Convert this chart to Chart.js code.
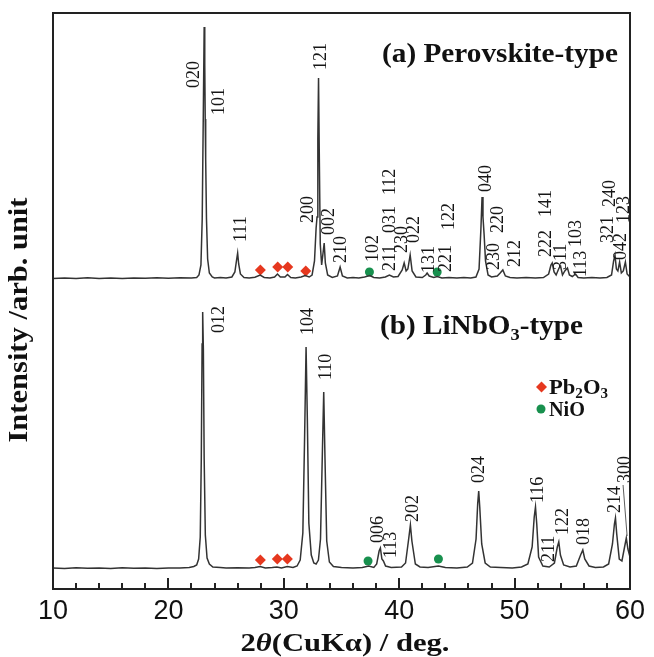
<!DOCTYPE html>
<html>
<head>
<meta charset="utf-8">
<script src="https://cdn.jsdelivr.net/npm/chart.js@4/dist/chart.umd.min.js"></script>
<style>
  html, body { margin: 0; padding: 0; background: #ffffff; }
  #wrap { width: 654px; height: 657px; }
</style>
</head>
<body>
<div id="wrap"><canvas id="xrd" width="654" height="657"></canvas></div>
<script>
// XRD patterns: [2θ (deg), intensity above baseline (arb. unit)]
const perovskitePattern = [
  [10,0.5],[11,1],[12,0.5],[13,1.2],[14,0.6],[15,1],[16,0.4],[17,1.1],[18,0.7],[19,1.3],[20,0.8],[21,1.2],[22,1],
  [22.45,1.5],[22.65,4],[22.82,14],[22.93,60],[23.02,160],[23.1,252],[23.15,215],[23.19,160],[23.23,120],[23.3,60],[23.4,20],[23.55,6],[23.8,2],
  [24,1],[24.5,1.5],[25,1],[25.5,2],[25.76,7],[25.92,20],[26.0,26],[26.09,15],[26.24,5],[26.55,1.5],
  [27,1],[27.5,1.8],[27.95,4],[28.3,1.5],[28.8,1],[29.2,2],[29.45,5],[29.7,2],[30.1,2],[30.32,4.5],[30.6,1.5],[31,1],[31.5,2],[31.85,3.5],[32.2,2],
  [32.45,4],[32.66,18],[32.8,51],[32.88,62],[32.95,140],[33.01,201],[33.07,130],[33.16,35],[33.28,14],[33.42,28],[33.5,36],[33.6,16],[33.8,4],
  [34.2,1.5],[34.65,3],[34.88,12],[35.08,3],[35.5,1],[36,1.5],[36.5,1],[37,2],[37.45,3.5],[37.8,1.5],[38.3,1],[38.8,2],[39.15,4],[39.5,2],
  [39.9,2.5],[40.26,9],[40.43,16],[40.6,8],[40.75,10],[40.95,24],[41.12,8],[41.45,2],[42.0,1.5],[42.3,4],[42.42,6],[42.6,3],[43,1.5],[43.3,2.5],[43.7,1],
  [44.3,1.5],[45,1],[45.6,1.5],[46.2,1],[46.65,2],[46.92,10],[47.08,50],[47.18,82],[47.26,62],[47.36,44],[47.48,18],[47.7,4],
  [48.0,2],[48.5,3],[48.75,6],[48.98,9],[49.2,3],[49.6,1.5],[50.2,1],[51,1.5],[51.8,1],[52.5,1.5],
  [52.95,5],[53.15,14],[53.26,16],[53.42,7],[53.6,4],[53.85,11],[53.98,13],[54.15,4],[54.35,8],[54.58,11],[54.75,4],[55.0,2.5],[55.28,5],[55.5,1.5],
  [56,1],[56.7,1.5],[57.4,1],[58,1.5],[58.4,4],[58.58,18],[58.7,24],[58.82,10],[58.95,8],[59.1,17],[59.25,6],[59.42,8],[59.6,17],[59.75,5],[60,2]
];

const linbo3Pattern = [
  [10,1],[11,0.5],[12,1.2],[13,0.7],[14,1],[15,0.5],[16,1.2],[17,0.8],[18,1],[19,0.6],[20,1.1],[21,1],[21.8,1.5],[22.2,2.5],
  [22.45,4],[22.62,10],[22.76,32],[22.85,110],[22.92,225],[22.97,257],[23.03,220],[23.1,110],[23.2,34],[23.35,11],[23.55,5],[23.85,2],
  [24.5,1.5],[25,1],[26,1.2],[27,1],[27.5,1.5],[27.95,2.5],[28.4,1],[29,1.5],[29.4,2],[29.8,1],[30.3,2.5],[30.8,1.5],
  [31.15,3],[31.42,9],[31.65,36],[31.8,130],[31.93,222],[32.04,150],[32.17,46],[32.38,14],[32.6,6],[32.8,5],
  [33.0,9],[33.18,30],[33.34,115],[33.46,177],[33.57,110],[33.72,28],[33.95,7],[34.3,2.5],
  [35,1.5],[36,1],[36.8,1.5],[37.36,3],[37.8,1.5],[38.05,5],[38.26,18],[38.37,21],[38.5,10],[38.63,8],[38.82,3],[39.3,1.5],
  [40.2,2],[40.55,6],[40.82,30],[40.97,44],[41.1,28],[41.4,5],[41.8,2],[42.5,1.5],[43.4,3],[44,1.5],[45,1],
  [45.9,2],[46.35,6],[46.66,30],[46.8,65],[46.89,78],[46.98,62],[47.15,25],[47.45,6],[47.9,2],[48.8,1.5],[49.8,1],
  [50.6,2],[51.15,5],[51.52,22],[51.7,52],[51.81,62],[51.92,45],[52.08,12],[52.24,8],[52.45,3],[53.0,2],
  [53.45,6],[53.7,22],[53.83,27],[53.97,14],[54.25,4],[54.8,2],[55.35,3],[55.72,14],[55.91,19],[56.08,10],[56.45,3],
  [57.0,1.5],[57.7,2],[58.15,5],[58.48,25],[58.65,45],[58.74,51],[58.85,35],[59.07,10],[59.3,8],[59.53,22],[59.68,31],[59.82,20],[60,12]
];

// Miller indices: label text, 2θ of the label column, intensity level where the label starts
const perovskiteHkl      = ['020','101','111','200','121','002','210','102','211','031','112','230','022','131','221','122','040','230','220','212','222','141','311','103','113','321','240','042','123'];
const perovskiteHklTheta = [22.16,24.33,26.24,32.04,33.17,33.87,34.9,37.68,39.15,39.15,39.15,40.17,41.26,42.56,44.01,44.29,47.47,48.19,48.49,49.93,52.68,52.68,53.98,55.28,55.71,58.02,58.16,59.17,59.41];
const perovskiteHklLevel = [191,164,37,56,209,44,16,17,8,46,84,26,36,6,7,49,87,9,46,12,22,62,9,32,2,36,72,19,56];

const linbo3Hkl      = ['012','104','110','006','113','202','024','116','211','122','018','214','300'];
const linbo3HklTheta = [24.36,32.02,33.6,38.09,39.24,41.12,46.89,51.96,52.96,54.12,55.99,58.6,59.46];
const linbo3HklLevel = [236,234,189,26,11,47,86,66,7,34,24,56,86];

// Impurity reflections
const pb2o3ThetaA = [27.97,29.47,30.34,31.9];
const pb2o3LevelA = [9,12,12,8];
const nioThetaA   = [37.42,43.29];
const nioLevelA   = [7,7];
const pb2o3ThetaB = [27.97,29.44,30.31];
const pb2o3LevelB = [9,10,10];
const nioThetaB   = [37.3,43.4];
const nioLevelB   = [8,10];

const xTickValues = [10,20,30,40,50,60];
const xMinorTicks = [12,14,16,18,22,24,26,28,32,34,36,38,42,44,46,48,52,54,56,58];

// vertical stacking of the two patterns (y axis units)
const OFFSET_A = 310;
const OFFSET_B = 20;

const LINE = '#333333';
const RED = '#e6381f';
const GREEN = '#18904e';
const SERIF = '"Liberation Serif", "Times New Roman", serif';

const shift = (pairs, off) => pairs.map(p => ({ x: p[0], y: p[1] + off }));
const zipPts = (xs, ys, off) => xs.map((x, i) => ({ x, y: ys[i] + off }));

// draw a sequence of styled text runs, scaled along the writing direction to a given length
function drawRuns(ctx, runs, x, y, targetLen, align, rotate) {
  ctx.save();
  let total = 0;
  runs.forEach(r => { ctx.font = r.font; r.w = ctx.measureText(r.t).width; total += r.w; });
  const sx = targetLen ? targetLen / total : 1;
  ctx.translate(x, y);
  if (rotate) ctx.rotate(rotate);
  ctx.scale(sx, 1);
  let cx = align === 'center' ? -total / 2 : (align === 'right' ? -total : 0);
  ctx.textBaseline = 'alphabetic';
  ctx.textAlign = 'left';
  runs.forEach(r => {
    ctx.font = r.font;
    ctx.fillStyle = r.color || '#111';
    ctx.fillText(r.t, cx, r.dy || 0);
    cx += r.w;
  });
  ctx.restore();
}

// inward tick marks along the bottom of the plot frame
const innerTicks = {
  id: 'innerTicks',
  afterDraw(chart) {
    const ctx = chart.ctx;
    const xs = chart.scales.x;
    const y0 = Math.round(chart.chartArea.bottom);
    ctx.save();
    ctx.fillStyle = '#222';
    xTickValues.forEach(v => { ctx.fillRect(Math.round(xs.getPixelForValue(v)) - 1, y0 - 11, 2, 11); });
    xMinorTicks.forEach(v => { ctx.fillRect(Math.round(xs.getPixelForValue(v)) - 1, y0 - 6, 2, 6); });
    ctx.restore();
  }
};

const decorations = {
  id: 'decorations',
  afterDraw(chart) {
    const ctx = chart.ctx;
    const xs = chart.scales.x, ys = chart.scales.y;
    const a = chart.chartArea;

    // Miller index labels, rotated to read upwards
    ctx.save();
    ctx.fillStyle = '#161616';
    ctx.font = '18px ' + SERIF;
    ctx.textAlign = 'left';
    ctx.textBaseline = 'middle';
    const put = (txt, th, lv, off) => {
      ctx.save();
      ctx.translate(xs.getPixelForValue(th), ys.getPixelForValue(lv + off));
      ctx.rotate(-Math.PI / 2);
      ctx.fillText(txt, 0, 1);
      ctx.restore();
    };
    perovskiteHkl.forEach((t, i) => put(t, perovskiteHklTheta[i], perovskiteHklLevel[i], OFFSET_A));
    linbo3Hkl.forEach((t, i) => put(t, linbo3HklTheta[i], linbo3HklLevel[i], OFFSET_B));
    ctx.restore();

    // leader line from the 300 label to its reflection
    ctx.save();
    ctx.strokeStyle = '#333';
    ctx.lineWidth = 0.8;
    ctx.beginPath();
    ctx.moveTo(xs.getPixelForValue(59.4), ys.getPixelForValue(84 + OFFSET_B));
    ctx.lineTo(xs.getPixelForValue(59.75), ys.getPixelForValue(33 + OFFSET_B));
    ctx.stroke();
    ctx.restore();

    // panel captions
    const bold = px => 'bold ' + px + 'px ' + SERIF;
    drawRuns(ctx, [{ t: '(a) Perovskite-type', font: bold(27) }], 618, 62, 236, 'right');
    drawRuns(ctx, [
      { t: '(b) LiNbO', font: bold(27) },
      { t: '3', font: bold(17), dy: 6 },
      { t: '-type', font: bold(27) }
    ], 583, 334, 203, 'right');

    // impurity key
    ctx.save();
    ctx.fillStyle = RED;
    ctx.beginPath();
    ctx.moveTo(541.5, 381.5); ctx.lineTo(547, 387); ctx.lineTo(541.5, 392.5); ctx.lineTo(536, 387); ctx.closePath();
    ctx.fill();
    ctx.fillStyle = GREEN;
    ctx.beginPath(); ctx.arc(541, 409, 4.5, 0, Math.PI * 2); ctx.fill();
    ctx.restore();
    drawRuns(ctx, [
      { t: 'Pb', font: bold(21) }, { t: '2', font: bold(14), dy: 4 },
      { t: 'O', font: bold(21) }, { t: '3', font: bold(14), dy: 4 }
    ], 549, 394, 59, 'left');
    drawRuns(ctx, [{ t: 'NiO', font: bold(21) }], 549, 416, 36, 'left');

    // axis titles
    drawRuns(ctx, [
      { t: '2', font: bold(26) },
      { t: 'θ', font: 'italic bold 26px ' + SERIF },
      { t: '(CuKα) / deg.', font: bold(26) }
    ], 345, 651, 209, 'center');
    drawRuns(ctx, [{ t: 'Intensity /arb. unit', font: bold(27) }], 27, 320, 245, 'center', -Math.PI / 2);

    // frame
    ctx.save();
    ctx.strokeStyle = '#222';
    ctx.lineWidth = 2;
    ctx.strokeRect(a.left, a.top, a.right - a.left, a.bottom - a.top);
    ctx.restore();
  }
};

new Chart(document.getElementById('xrd'), {
  type: 'line',
  data: {
    datasets: [
      { data: shift(perovskitePattern, OFFSET_A), borderColor: LINE, borderWidth: 1.5, pointRadius: 0, tension: 0 },
      { data: shift(linbo3Pattern, OFFSET_B), borderColor: LINE, borderWidth: 1.5, pointRadius: 0, tension: 0 },
      { data: zipPts(pb2o3ThetaA, pb2o3LevelA, OFFSET_A), showLine: false, pointStyle: 'rectRot', pointRadius: 5.5, backgroundColor: RED, borderWidth: 0 },
      { data: zipPts(pb2o3ThetaB, pb2o3LevelB, OFFSET_B), showLine: false, pointStyle: 'rectRot', pointRadius: 5.5, backgroundColor: RED, borderWidth: 0 },
      { data: zipPts(nioThetaA, nioLevelA, OFFSET_A), showLine: false, pointStyle: 'circle', pointRadius: 4.5, backgroundColor: GREEN, borderWidth: 0 },
      { data: zipPts(nioThetaB, nioLevelB, OFFSET_B), showLine: false, pointStyle: 'circle', pointRadius: 4.5, backgroundColor: GREEN, borderWidth: 0 }
    ]
  },
  options: {
    responsive: false,
    animation: false,
    devicePixelRatio: 1,
    layout: { padding: { left: 53, right: 24, top: 13, bottom: 0 } },
    plugins: { legend: { display: false }, tooltip: { enabled: false } },
    scales: {
      x: {
        type: 'linear', min: 10, max: 60,
        afterBuildTicks: s => { s.ticks = xTickValues.map(v => ({ value: v })); },
        afterFit: s => { s.height = 68; },
        grid: { display: false, drawTicks: false },
        border: { display: false },
        ticks: { color: '#111', padding: 6, maxRotation: 0, autoSkip: false, font: { family: '"Liberation Sans", Arial, sans-serif', size: 27 } }
      },
      y: { type: 'linear', min: 0, max: 576, display: false }
    }
  },
  plugins: [decorations, innerTicks]
});
</script>
</body>
</html>
